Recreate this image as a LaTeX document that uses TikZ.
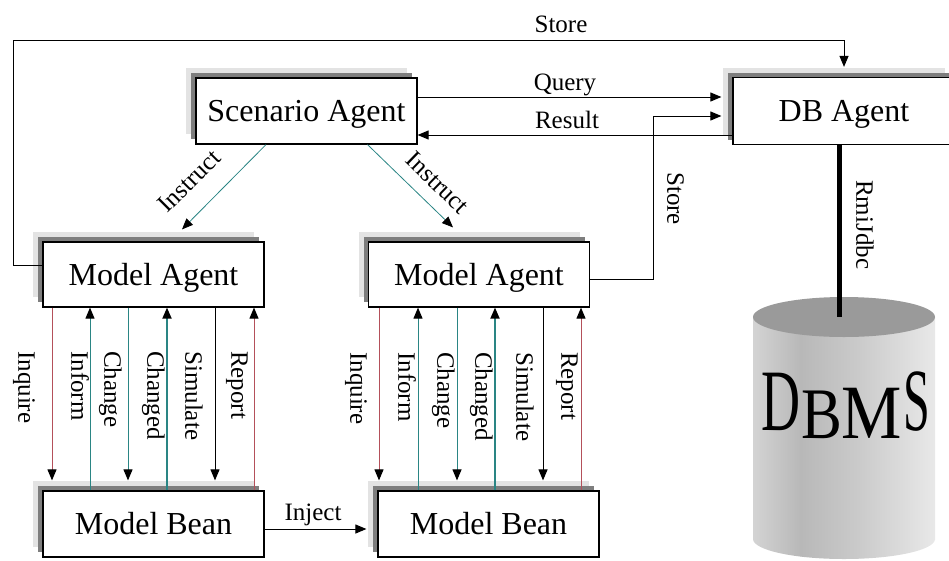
\documentclass[tikz,border=0pt]{standalone}
\usepackage{fontspec}
\usepackage{graphicx}
\setmainfont{Liberation Serif}
\usetikzlibrary{arrows.meta,shadows}

\definecolor{shadowdark}{HTML}{7E7E7E}
\definecolor{shadowlight}{HTML}{E3E3E3}
\definecolor{wirered}{HTML}{B4505A}
\definecolor{wireteal}{HTML}{2A8584}
\definecolor{cyltop}{HTML}{9A9A9A}
\definecolor{cylA}{HTML}{D4D4D4}
\definecolor{cylB}{HTML}{B8B8B8}
\definecolor{cylC}{HTML}{CBCBCB}
\definecolor{cylD}{HTML}{E9E9E9}

\newcommand\bxfont{\fontsize{32}{38}\selectfont}
\newcommand\lbfont{\fontsize{25}{30}\selectfont}
\newcommand\dbfont{\fontsize{60}{70}\selectfont}
% vertical bands of the cylinder body, light - dark - light
\newcommand\cylbands{%
  \shade[left color=cylA, right color=cylB] (752,300) rectangle (801,570);
  \shade[left color=cylB, right color=cylC] (800.5,300) rectangle (861,570);
  \shade[left color=cylC, right color=cylD] (860.5,300) rectangle (936,570);}

\begin{document}
\begin{tikzpicture}[x=1pt,y=-1pt,
  box/.style={draw=black, line width=1.2pt, fill=white, inner sep=0pt,
    minimum width=221pt, minimum height=66pt, font=\bxfont,
    text height=21pt, text depth=0pt,
    general shadow={fill=shadowlight, shadow xshift=-10pt, shadow yshift=10pt},
    general shadow={fill=shadowdark, shadow xshift=-5pt, shadow yshift=5pt}},
  conn/.style={line width=1pt, -{Triangle[length=11pt,width=9pt,color=black]}},
  downwire/.style={conn, shorten >=10pt},
  lbl/.style={font=\lbfont, inner sep=0pt, text height=16.5pt, text depth=5.4pt},
  vlbl/.style={lbl, rotate=-90, anchor=north west},
  letter/.style={font=\dbfont, inner sep=0pt, anchor=base},
]
\useasboundingbox (0,0) rectangle (949,560);
\clip (0,0) rectangle (949,560);

% database cylinder: straight body plus rounded bottom, then the top face
\begin{scope}
  \clip (753,317) rectangle (935,539);
  \cylbands
\end{scope}
\begin{scope}
  \clip (844,539) ellipse [x radius=91, y radius=20];
  \cylbands
\end{scope}
\fill[cyltop] (844,317) ellipse [x radius=91, y radius=20];
\coordinate (dbtop) at (839,317);
\node[letter] (lD) at (781,430) {\scalebox{.9}[1.46]{D}};
\node[letter] (lB) at (822,438) {\scalebox{1.02}[1.21]{B}};
\node[letter] (lM) at (872,438) {\scalebox{1.13}[1.28]{M}};
\node[letter] (lS) at (916.5,430) {\scalebox{.8}[1.48]{S}};

% agents and beans
\node[box] (SA) at (306.5,111) {Scenario Agent};
\node[box, minimum width=222pt, minimum height=67pt] (DB) at (844,111) {DB Agent};
\node[box, minimum height=65pt] (MA1) at (153.5,274.5) {Model Agent};
\node[box, minimum height=65pt] (MA2) at (479,274.5) {Model Agent};
\node[box] (MB1) at (153.5,524) {Model Bean};
\node[box] (MB2) at (488.5,524) {Model Bean};

% RmiJdbc link
\draw[line width=5pt] ([xshift=-5pt]DB.south) -- (dbtop);
\node[vlbl] (rmi) at (873,180) {RmiJdbc};

% store from the left model agent
\draw[conn] ([yshift=9.5pt]MA1.west) -| (13,40) -| ([yshift=10pt]DB.north);
\node[lbl, anchor=base] (store1) at (561,32) {Store};

% query / result
\draw[conn] ([yshift=14pt]SA.east) -- ([xshift=-11pt,yshift=14pt]DB.west);
\node[lbl, anchor=base] (query) at (565,90) {Query};
\draw[conn] ([yshift=-24pt]DB.west) -- ([yshift=-24pt]SA.east);
\node[lbl, anchor=base] (result) at (567,128) {Result};

% store from the right model agent
\draw[conn] ([yshift=-4.5pt]MA2.east) -- ++(63,0) |- ([xshift=-11pt,yshift=-5pt]DB.west);
\node[vlbl] (store2) at (684,172) {Store};

% instruct
\draw[conn, draw=wireteal, line width=.8pt] ([xshift=-40.5pt]SA.south) -- ([xshift=28.5pt,yshift=12pt]MA1.north);
\node[lbl, rotate=45] (ins1) at (191,183) {Instruct};
\draw[conn, draw=wireteal, line width=.8pt] ([xshift=61pt]SA.south) -- ([xshift=-26pt,yshift=14pt]MA2.north);
\node[lbl, rotate=-44] (ins2) at (436,184.5) {Instruct};

% agent <-> bean messages, left group
\draw[downwire, draw=wirered] (MA1.south -| 52,0) -- (MB1.north -| 52,0);
\draw[conn, draw=wireteal] (MB1.north -| 90,0) -- (MA1.south -| 90,0);
\draw[downwire, draw=wireteal] (MA1.south -| 128,0) -- (MB1.north -| 128,0);
\draw[conn, draw=wireteal, line width=1.8pt] (MB1.north -| 167,0) -- (MA1.south -| 167,0);
\draw[downwire] (MA1.south -| 215,0) -- (MB1.north -| 215,0);
\draw[conn, draw=wirered] (MB1.north -| 254,0) -- (MA1.south -| 254,0);
\node[vlbl] (inq1) at (35,351) {Inquire};
\node[vlbl] (inf1) at (88,351) {Inform};
\node[vlbl] (chg1) at (121,351) {Change};
\node[vlbl] (chd1) at (164,351) {Changed};
\node[vlbl] (sim1) at (202,351) {Simulate};
\node[vlbl] (rep1) at (248,351) {Report};

% agent <-> bean messages, right group
\draw[downwire, draw=wirered] (MA2.south -| 379,0) -- (MB2.north -| 379,0);
\draw[conn, draw=wireteal] (MB2.north -| 418,0) -- (MA2.south -| 418,0);
\draw[downwire, draw=wireteal] (MA2.south -| 457,0) -- (MB2.north -| 457,0);
\draw[conn, draw=wireteal, line width=1.8pt] (MB2.north -| 495,0) -- (MA2.south -| 495,0);
\draw[downwire] (MA2.south -| 543,0) -- (MB2.north -| 543,0);
\draw[conn, draw=wirered] (MB2.north -| 581,0) -- (MA2.south -| 581,0);
\node[vlbl] (inq2) at (367,352) {Inquire};
\node[vlbl] (inf2) at (415,352) {Inform};
\node[vlbl] (chg2) at (454,352) {Change};
\node[vlbl] (chd2) at (492,352) {Changed};
\node[vlbl] (sim2) at (533,352) {Simulate};
\node[vlbl] (rep2) at (578,352) {Report};

% inject
\draw[conn] ([yshift=-5pt]MB1.east) -- ([xshift=-11pt,yshift=-5pt]MB2.west);
\node[lbl, anchor=base] (inject) at (313,520) {Inject};
\end{tikzpicture}
\end{document}
